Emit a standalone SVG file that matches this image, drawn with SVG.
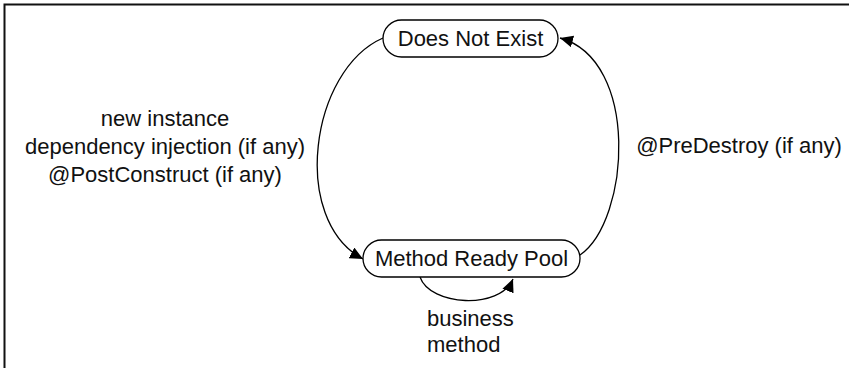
<svg xmlns="http://www.w3.org/2000/svg" width="849" height="368" viewBox="0 0 849 368">
  <style>
    .frame { stroke: #111; stroke-width: 2; fill: none; }
    .state rect { fill: #fff; stroke: #000; stroke-width: 1.3; }
    .state text, .label { font-family: "Liberation Sans", Arial, sans-serif; font-size: 22px; fill: #111; }
    .state text, .label.c { text-anchor: middle; }
    .edge { fill: none; stroke: #000; stroke-width: 1.3; marker-end: url(#arrow); }
  </style>
  <defs>
    <marker id="arrow" markerUnits="userSpaceOnUse" markerWidth="14" markerHeight="12" refX="13" refY="6" orient="auto">
      <path d="M0,0 L13,6 L0,12 Z" fill="#000"/>
    </marker>
  </defs>

  <rect x="0" y="0" width="849" height="368" fill="#fff"/>
  <!-- open frame: top and left edges only -->
  <path class="frame" d="M4.5,368 V4.5 H849"/>

  <g id="connectors">
    <path class="edge" d="M383,38 C310,70 290,220 363,259"/>
    <path class="edge" d="M580,255 C630,220 640,60 560,38"/>
    <path class="edge" d="M420,277 C430,306 500,310 513,279"/>
  </g>

  <g id="does-not-exist" class="state">
    <rect x="383" y="20" width="175" height="37" rx="18.5"/>
    <text x="470.5" y="46">Does Not Exist</text>
  </g>

  <g id="method-ready-pool" class="state">
    <rect x="363" y="240" width="217" height="37" rx="18.5"/>
    <text x="471.5" y="266">Method Ready Pool</text>
  </g>

  <g id="labels">
    <text class="label c" x="165" y="126">new instance</text>
    <text class="label c" x="165" y="154">dependency injection (if any)</text>
    <text class="label c" x="165" y="182">@PostConstruct (if any)</text>
    <text class="label c" x="739" y="153">@PreDestroy (if any)</text>
    <text class="label" x="427" y="326">business</text>
    <text class="label" x="427" y="352">method</text>
  </g>
</svg>
